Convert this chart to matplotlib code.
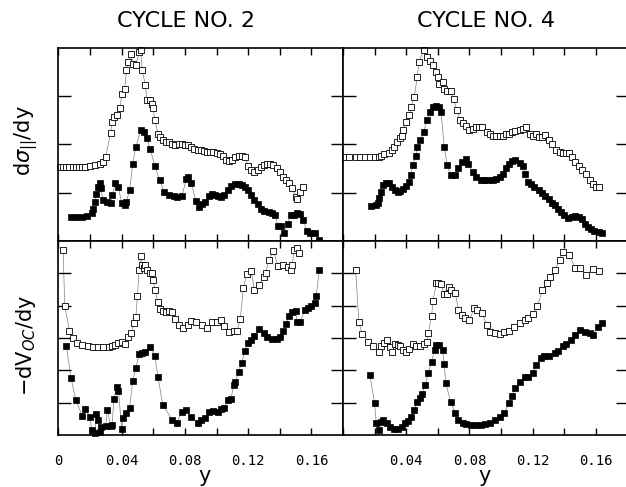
import matplotlib
matplotlib.use("Agg")
import matplotlib.pyplot as plt
from matplotlib.ticker import FixedLocator, FixedFormatter

# ---------------- data (x = composition y, values in arbitrary units) -------------
titles = ["CYCLE NO. 2", "CYCLE NO. 4"]
ylabels = [r"d$\sigma_{||}$/dy", r"$-$dV$_{OC}$/dy"]
xtick_vals = [0.0, 0.02, 0.04, 0.06, 0.08, 0.10, 0.12, 0.14, 0.16, 0.18]
xtick_text_left = ["0", "", "0.04", "", "0.08", "", "0.12", "", "0.16", ""]
xtick_text_right = ["", "", "0.04", "", "0.08", "", "0.12", "", "0.16", ""]

# cycle 2, d sigma/dy, open squares
c2_sig_open = [(0.001,1.53),(0.003,1.53),(0.005,1.53),(0.007,1.53),(0.009,1.53),(0.011,1.53),
    (0.013,1.54),(0.015,1.54),(0.017,1.54),(0.020,1.55),(0.023,1.57),(0.026,1.60),(0.028,1.64),
    (0.030,1.74),(0.033,2.24),(0.034,2.46),(0.035,2.56),(0.037,2.60),(0.039,2.74),(0.040,3.03),
    (0.042,3.15),(0.043,3.53),(0.044,3.70),(0.046,3.87),(0.047,3.66),(0.049,3.63),(0.051,3.90),
    (0.052,3.94),(0.053,3.53),(0.055,3.22),(0.056,2.92),(0.058,2.91),(0.059,2.84),(0.060,2.74),
    (0.061,2.50),(0.063,2.22),(0.064,2.15),(0.066,2.08),(0.068,2.05),(0.070,2.04),(0.072,2.01),
    (0.074,1.98),(0.076,2.00),(0.078,2.00),(0.080,1.98),(0.082,1.98),(0.084,1.95),(0.086,1.91),
    (0.088,1.89),(0.090,1.88),(0.092,1.86),(0.094,1.84),(0.096,1.84),(0.098,1.83),(0.100,1.82),
    (0.102,1.79),(0.104,1.75),(0.106,1.67),(0.108,1.66),(0.110,1.67),(0.112,1.73),(0.114,1.75),
    (0.116,1.75),(0.118,1.73),(0.120,1.55),(0.122,1.46),(0.124,1.43),(0.126,1.46),(0.128,1.53),
    (0.130,1.57),(0.132,1.59),(0.134,1.59),(0.136,1.57),(0.138,1.50),(0.140,1.43),(0.142,1.33),
    (0.144,1.26),(0.146,1.19),(0.148,1.09),(0.150,0.91),(0.151,0.86),(0.153,1.02),(0.155,1.12)]

# cycle 2, d sigma/dy, filled squares
c2_sig_fill = [(0.008,0.50),(0.011,0.50),(0.015,0.50),(0.018,0.51),(0.021,0.57),(0.022,0.67),
    (0.023,0.81),(0.024,0.98),(0.025,1.12),(0.026,1.19),(0.027,1.09),(0.028,0.85),(0.031,0.81),
    (0.033,0.78),(0.034,0.95),(0.036,1.19),(0.038,1.12),(0.040,0.78),(0.042,0.74),(0.043,0.81),
    (0.045,1.05),(0.047,1.60),(0.049,1.94),(0.052,2.29),(0.054,2.25),(0.056,2.12),(0.058,1.91),
    (0.061,1.55),(0.064,1.26),(0.067,1.02),(0.070,0.95),(0.073,0.93),(0.075,0.90),(0.078,0.92),
    (0.081,1.29),(0.082,1.33),(0.084,1.19),(0.087,0.83),(0.089,0.71),(0.091,0.76),(0.093,0.81),
    (0.095,0.92),(0.097,0.97),(0.099,0.95),(0.101,0.92),(0.103,0.90),(0.105,0.95),(0.107,1.05),
    (0.109,1.13),(0.112,1.17),(0.114,1.17),(0.116,1.15),(0.118,1.12),(0.120,1.05),(0.122,0.95),
    (0.124,0.85),(0.126,0.76),(0.128,0.67),(0.130,0.62),(0.133,0.60),(0.135,0.57),(0.137,0.54),
    (0.139,0.30),(0.141,0.30),(0.143,0.17),(0.145,0.36),(0.147,0.54),(0.149,0.54),(0.151,0.57),
    (0.153,0.55),(0.155,0.44),(0.157,0.21),(0.159,0.17),(0.162,0.16),(0.165,0.03)]

# cycle 4, d sigma/dy, open squares
c4_sig_open = [(0.001,1.74),(0.004,1.74),(0.008,1.74),(0.011,1.74),(0.014,1.74),(0.017,1.74),
    (0.020,1.74),(0.023,1.74),(0.024,1.75),(0.026,1.79),(0.029,1.82),(0.031,1.88),(0.032,1.95),
    (0.034,2.05),(0.036,2.12),(0.037,2.18),(0.038,2.29),(0.040,2.46),(0.042,2.60),(0.043,2.77),
    (0.045,2.97),(0.047,3.39),(0.048,3.70),(0.051,3.94),(0.053,3.80),(0.055,3.73),(0.057,3.63),
    (0.059,3.49),(0.060,3.39),(0.061,3.25),(0.063,3.28),(0.064,3.15),(0.066,3.11),(0.068,3.11),
    (0.070,2.94),(0.072,2.70),(0.074,2.50),(0.076,2.43),(0.078,2.37),(0.080,2.29),(0.082,2.32),
    (0.084,2.35),(0.086,2.35),(0.088,2.36),(0.091,2.25),(0.093,2.21),(0.095,2.18),(0.097,2.18),
    (0.099,2.18),(0.101,2.18),(0.103,2.21),(0.105,2.22),(0.107,2.25),(0.109,2.27),(0.112,2.30),
    (0.114,2.32),(0.116,2.35),(0.118,2.22),(0.120,2.18),(0.122,2.21),(0.124,2.15),(0.126,2.15),
    (0.128,2.20),(0.130,2.08),(0.132,2.00),(0.135,1.88),(0.137,1.84),(0.139,1.82),(0.141,1.81),
    (0.143,1.82),(0.145,1.74),(0.147,1.64),(0.149,1.55),(0.151,1.46),(0.154,1.39),(0.156,1.26),
    (0.158,1.17),(0.160,1.12),(0.162,1.11)]

# cycle 4, d sigma/dy, filled squares
c4_sig_fill = [(0.018,0.72),(0.021,0.74),(0.022,0.79),(0.023,0.88),(0.024,1.01),(0.025,1.15),
    (0.027,1.20),(0.029,1.20),(0.031,1.12),(0.033,1.05),(0.035,1.01),(0.036,1.04),(0.038,1.08),
    (0.040,1.13),(0.042,1.22),(0.043,1.36),(0.044,1.57),(0.046,1.75),(0.047,1.94),(0.049,2.08),
    (0.051,2.25),(0.053,2.50),(0.055,2.67),(0.057,2.77),(0.059,2.80),(0.061,2.78),(0.062,2.67),
    (0.064,1.94),(0.066,1.57),(0.068,1.36),(0.071,1.36),(0.073,1.50),(0.075,1.63),(0.078,1.70),
    (0.079,1.60),(0.082,1.43),(0.084,1.33),(0.087,1.27),(0.089,1.26),(0.092,1.26),(0.095,1.27),
    (0.097,1.29),(0.099,1.33),(0.101,1.39),(0.103,1.50),(0.105,1.60),(0.107,1.65),(0.109,1.67),
    (0.112,1.61),(0.114,1.55),(0.115,1.39),(0.117,1.22),(0.119,1.17),(0.121,1.12),(0.124,1.05),
    (0.126,1.00),(0.128,0.93),(0.130,0.86),(0.132,0.79),(0.134,0.74),(0.136,0.67),(0.138,0.60),
    (0.140,0.53),(0.142,0.47),(0.145,0.50),(0.147,0.51),(0.149,0.50),(0.151,0.45),(0.153,0.36),
    (0.155,0.28),(0.157,0.24),(0.159,0.21),(0.162,0.19),(0.164,0.17)]

# cycle 2, -dV/dy, open squares
c2_v_open = [(0.003,5.73),(0.004,3.99),(0.007,3.23),(0.009,3.00),(0.012,2.86),(0.015,2.78),
    (0.019,2.75),(0.022,2.73),(0.025,2.71),(0.028,2.71),(0.032,2.73),(0.034,2.75),(0.036,2.78),
    (0.038,2.84),(0.040,2.89),(0.042,2.82),(0.044,3.04),(0.046,3.17),(0.048,3.46),(0.049,3.66),
    (0.050,4.30),(0.051,5.11),(0.052,5.54),(0.053,5.26),(0.054,5.16),(0.055,5.26),(0.056,5.09),
    (0.058,5.00),(0.059,5.02),(0.060,4.80),(0.061,4.49),(0.063,4.10),(0.064,3.89),(0.066,3.84),
    (0.068,3.79),(0.070,3.82),(0.072,3.79),(0.074,3.58),(0.076,3.40),(0.079,3.30),(0.082,3.40),
    (0.084,3.54),(0.087,3.51),(0.091,3.40),(0.094,3.30),(0.097,3.48),(0.100,3.51),(0.103,3.56),
    (0.105,3.37),(0.108,3.20),(0.111,3.23),(0.113,3.23),(0.115,3.58),(0.117,4.54),(0.119,4.98),
    (0.122,5.06),(0.124,4.47),(0.127,4.64),(0.130,4.90),(0.131,5.00),(0.133,5.40),(0.136,5.68),
    (0.139,5.23),(0.142,5.26),(0.145,5.19),(0.147,5.11),(0.148,5.26),(0.149,5.73),(0.151,5.78),
    (0.152,5.64)]

# cycle 2, -dV/dy, filled squares
c2_v_fill = [(0.005,2.76),(0.008,1.76),(0.011,1.08),(0.015,0.60),(0.017,0.79),(0.020,0.56),
    (0.021,0.15),(0.023,0.07),(0.024,0.65),(0.025,0.46),(0.026,0.10),(0.027,0.26),(0.030,0.28),
    (0.031,0.78),(0.033,0.28),(0.034,0.31),(0.035,1.10),(0.037,1.50),(0.038,1.37),(0.040,0.18),
    (0.041,0.52),(0.043,0.67),(0.045,0.83),(0.047,1.67),(0.049,2.08),(0.051,2.49),(0.053,2.55),
    (0.055,2.58),(0.058,2.72),(0.061,2.45),(0.063,1.80),(0.066,0.93),(0.072,0.47),(0.075,0.38),
    (0.078,0.72),(0.081,0.78),(0.084,0.57),(0.088,0.38),(0.090,0.47),(0.093,0.52),(0.095,0.72),
    (0.098,0.75),(0.101,0.72),(0.103,0.79),(0.105,0.83),(0.107,1.08),(0.109,1.10),(0.111,1.55),
    (0.112,1.65),(0.114,1.96),(0.116,2.24),(0.118,2.61),(0.120,2.86),(0.122,2.94),(0.124,3.07),
    (0.127,3.27),(0.130,3.15),(0.132,3.04),(0.135,2.96),(0.138,2.96),(0.140,3.02),(0.142,3.23),
    (0.144,3.44),(0.146,3.68),(0.148,3.79),(0.150,3.82),(0.151,3.51),(0.153,3.51),(0.156,3.87),
    (0.158,3.92),(0.160,3.99),(0.162,4.07),(0.163,4.30),(0.165,5.09)]

# cycle 4, -dV/dy, open squares
c4_v_open = [(0.008,5.11),(0.010,3.51),(0.012,3.13),(0.016,2.89),(0.019,2.75),(0.023,2.58),
    (0.024,2.75),(0.026,2.84),(0.028,2.94),(0.030,2.71),(0.031,2.58),(0.033,2.82),(0.035,2.78),
    (0.036,2.75),(0.038,2.62),(0.040,2.58),(0.042,2.65),(0.044,2.82),(0.046,2.75),(0.049,2.75),
    (0.051,2.82),(0.053,2.89),(0.054,3.15),(0.056,3.68),(0.057,4.15),(0.059,4.69),(0.060,4.71),
    (0.062,4.67),(0.064,4.36),(0.066,4.36),(0.067,4.58),(0.068,4.49),(0.071,4.40),(0.073,3.87),
    (0.075,3.71),(0.077,3.61),(0.080,3.56),(0.083,3.92),(0.085,3.87),(0.088,3.76),(0.091,3.40),
    (0.093,3.20),(0.096,3.15),(0.099,3.13),(0.102,3.20),(0.105,3.23),(0.108,3.33),(0.112,3.46),
    (0.115,3.56),(0.117,3.61),(0.120,3.74),(0.123,3.99),(0.126,4.47),(0.129,4.69),(0.131,4.88),
    (0.134,5.09),(0.137,5.42),(0.139,5.65),(0.143,5.57),(0.147,5.16),(0.150,5.16),(0.154,4.95),
    (0.158,5.13),(0.162,5.06)]

# cycle 4, -dV/dy, filled squares
c4_v_fill = [(0.017,1.86),(0.020,0.98),(0.021,0.38),(0.023,0.15),(0.024,0.41),(0.025,0.46),
    (0.028,0.36),(0.030,0.26),(0.032,0.18),(0.035,0.18),(0.037,0.24),(0.039,0.36),(0.041,0.44),
    (0.043,0.57),(0.045,0.77),(0.047,1.03),(0.049,1.13),(0.050,1.27),(0.052,1.55),(0.054,1.93),
    (0.056,2.27),(0.058,2.63),(0.059,2.79),(0.061,2.79),(0.063,2.63),(0.064,2.20),(0.065,1.60),
    (0.068,1.03),(0.071,0.69),(0.073,0.46),(0.076,0.38),(0.078,0.33),(0.081,0.30),(0.084,0.30),
    (0.087,0.30),(0.090,0.33),(0.093,0.38),(0.096,0.46),(0.099,0.57),(0.102,0.69),(0.105,0.98),
    (0.107,1.20),(0.109,1.44),(0.112,1.65),(0.115,1.80),(0.117,1.80),(0.120,1.91),(0.122,2.17),
    (0.125,2.37),(0.127,2.45),(0.130,2.43),(0.134,2.53),(0.136,2.61),(0.139,2.74),(0.141,2.82),
    (0.144,2.94),(0.147,3.10),(0.150,3.25),(0.153,3.20),(0.156,3.15),(0.158,3.10),(0.161,3.33),
    (0.164,3.46)]

# ---------------- figure -------------
W, H = 626, 487
fig = plt.figure(figsize=(W / 100, H / 100), dpi=100)
plt.rcParams['font.family'] = ['DejaVu Sans']


def frac(x0, y0, x1, y1):
    return [x0 / W, 1 - y1 / H, (x1 - x0) / W, (y1 - y0) / H]


ax_tl = fig.add_axes(frac(58.4, 47.5, 343, 241))
ax_tr = fig.add_axes(frac(343, 47.5, 627.6, 241))
ax_bl = fig.add_axes(frac(58.4, 241, 343, 435))
ax_br = fig.add_axes(frac(343, 241, 627.6, 435))

panels = [
    (ax_tl, c2_sig_open, c2_sig_fill, 4),
    (ax_tr, c4_sig_open, c4_sig_fill, 4),
    (ax_bl, c2_v_open, c2_v_fill, 6),
    (ax_br, c4_v_open, c4_v_fill, 6),
]

for ax, op, fi, ymax in panels:
    for data, filled in ((op, False), (fi, True)):
        xs = [p[0] for p in data]
        ys = [p[1] for p in data]
        ax.plot(xs, ys, '-', color='0.5', lw=0.5, zorder=1)
        if filled:
            ax.plot(xs, ys, 's', ms=3.8, mfc='black', mec='black', mew=0.5, zorder=3,
                    clip_on=False)
        else:
            ax.plot(xs, ys, 's', ms=4.2, mfc='white', mec='black', mew=0.6, zorder=2,
                    clip_on=False)
    ax.set_xlim(0, 0.18)
    ax.set_ylim(0, ymax)
    ax.xaxis.set_major_locator(FixedLocator(xtick_vals))
    ax.yaxis.set_major_locator(FixedLocator(list(range(1, ymax))))
    ax.tick_params(axis='x', direction='in', length=5, width=1.0, top=True, bottom=True,
                   labelbottom=False)
    ax.tick_params(axis='y', direction='in', length=9, width=1.0, left=True, right=True,
                   labelleft=False)
    for s in ax.spines.values():
        s.set_linewidth(1.2)

for ax, txt in ((ax_bl, xtick_text_left), (ax_br, xtick_text_right)):
    ax.xaxis.set_major_formatter(FixedFormatter(txt))
    ax.tick_params(axis='x', labelbottom=True, pad=14, labelsize=10)
    for lab in ax.get_xticklabels():
        lab.set_family(['DejaVu Sans Mono'])

fig.text(186 / W, 1 - 21 / H, titles[0], ha='center', va='center', fontsize=16)
fig.text(486 / W, 1 - 21 / H, titles[1], ha='center', va='center', fontsize=16)
fig.text(26 / W, 1 - 141 / H, ylabels[0], rotation=90, ha='center', va='center', fontsize=15)
fig.text(26 / W, 1 - 345 / H, ylabels[1], rotation=90, ha='center', va='center', fontsize=15)
fig.text(205 / W, 1 - 476 / H, "y", ha='center', va='center', fontsize=15)
fig.text(485 / W, 1 - 476 / H, "y", ha='center', va='center', fontsize=15)

fig.savefig("out.png", dpi=100)
